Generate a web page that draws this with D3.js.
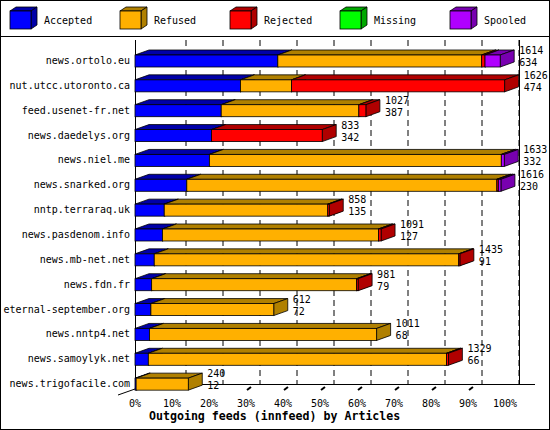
<!DOCTYPE html><html><head><script src="https://cdn.jsdelivr.net/npm/d3@7"></script>
<style>body{margin:0;background:#fff}text{font-family:"DejaVu Sans Mono",monospace;font-size:10px}</style></head><body><svg id="c" width="550" height="430"></svg>
<script>
const hosts=["news.ortolo.eu","nut.utcc.utoronto.ca","feed.usenet-fr.net","news.daedelys.org","news.niel.me","news.snarked.org","nntp.terraraq.uk","news.pasdenom.info","news.mb-net.net","news.fdn.fr","eternal-september.org","news.nntp4.net","news.samoylyk.net","news.trigofacile.com"];
const accepted=[38.6,28.5,23.3,20.7,20.1,14.0,7.9,7.4,5.2,4.5,4.3,3.9,3.6,0.3];
const refused=[55.1,13.8,37.2,0,78.9,83.8,44.2,58.4,82.3,55.4,33.2,61.4,80.6,14.1];
const rejected=[0.9,57.6,1.9,29.9,0,0.4,0.4,0.7,0.3,0.4,0,0,0.5,0];
const missing=[0,0,0,0,0,0,0,0,0,0,0,0,0,0];
const spooled=[4.1,0,0,0,0.8,0.7,0,0,0,0,0,0,0,0];
const totals=[1614,1626,1027,833,1633,1616,858,1091,1435,981,612,1011,1329,240];
const seconds=[634,474,387,342,332,230,135,127,91,79,72,68,66,12];
const seriesNames=["Accepted","Refused","Rejected","Missing","Spooled"];
const seriesData=[accepted,refused,rejected,missing,spooled];
const ticks=[0,10,20,30,40,50,60,70,80,90,100];
const colors=["#0000ff","#ffb000","#ff0000","#00ff00","#b000ff"];
const darks=["#0000a8","#b08000","#b00000","#00a800","#7800b0"];
const svg=d3.select("#c");
const x=d3.scaleLinear().domain([0,100]).range([135,505]);
const y=d3.scaleBand().domain(hosts).range([48,396]).paddingInner(0).paddingOuter(0);
const DX=14,DY=5,BH=12,GX=14;
svg.append("rect").attr("x",0.5).attr("y",0.5).attr("width",549).attr("height",429).attr("fill","none").attr("stroke","#000");
svg.append("line").attr("x1",0).attr("x2",550).attr("y1",36.5).attr("y2",36.5).attr("stroke","#000");
function cube(g,x0,y0,w,h,dx,dy,c,d){
 g.append("path").attr("d",`M${x0},${y0}L${x0+dx},${y0-dy}L${x0+w+dx},${y0-dy}L${x0+w},${y0}Z`).attr("fill",d).attr("stroke","#000").attr("stroke-width",0.8);
 g.append("path").attr("d",`M${x0+w},${y0}L${x0+w+dx},${y0-dy}L${x0+w+dx},${y0+h-dy}L${x0+w},${y0+h}Z`).attr("fill",d).attr("stroke","#000").attr("stroke-width",0.8);
 g.append("rect").attr("x",x0).attr("y",y0).attr("width",w).attr("height",h).attr("fill",c).attr("stroke","#000").attr("stroke-width",0.8);
}
seriesNames.forEach((n,i)=>{const g=svg.append("g");cube(g,10+110*i,11,21,18,6,4,colors[i],darks[i]);
 svg.append("text").attr("x",44+110*i).attr("y",24).text(n);});
const grid=svg.append("g");
ticks.forEach(t=>{ if(t>0) grid.append("line").attr("x1",x(t)+GX).attr("x2",x(t)+GX).attr("y1",40).attr("y2",384).attr("stroke","#000").attr("stroke-dasharray","6,4");});
grid.append("line").attr("x1",135.5).attr("x2",135.5).attr("y1",40).attr("y2",390).attr("stroke","#000");
grid.append("line").attr("x1",519.5).attr("x2",519.5).attr("y1",40).attr("y2",384).attr("stroke","#000");
grid.append("line").attr("x1",135).attr("x2",535).attr("y1",384.5).attr("y2",384.5).attr("stroke","#000");
grid.append("line").attr("x1",118).attr("x2",135).attr("y1",395).attr("y2",389).attr("stroke","#000");
ticks.forEach(t=>{ if(t>=30&&t<=90) grid.append("line").attr("x1",x(t)+1).attr("x2",x(t)+5).attr("y1",390).attr("y2",387).attr("stroke","#000").attr("stroke-width",2);});
hosts.forEach((h,i)=>{
 const top=y(h)+7;let cum=0;const g=svg.append("g");
 const segs=[];seriesData.forEach((s,k)=>{if(s[i]>0){segs.push([cum,s[i],k]);cum+=s[i];}});
 segs.forEach(([c0,v,k])=>{cube(g,x(c0),top,x(c0+v)-x(c0),BH,DX,DY,colors[k],darks[k]);});
 const xe=x(cum)+DX+5;
 svg.append("text").attr("x",xe).attr("y",top-1).text(totals[i]);
 svg.append("text").attr("x",xe).attr("y",top+11).text(seconds[i]);
 svg.append("text").attr("x",130).attr("y",top+9).attr("text-anchor","end").text(h);
});
ticks.forEach(t=>svg.append("text").attr("x",x(t)).attr("y",407).attr("text-anchor","middle").text(t+"%"));
svg.append("text").attr("x",149).attr("y",420).attr("font-weight","bold").style("font-size","11.6px").text("Outgoing feeds (innfeed) by Articles");
</script></body></html>
